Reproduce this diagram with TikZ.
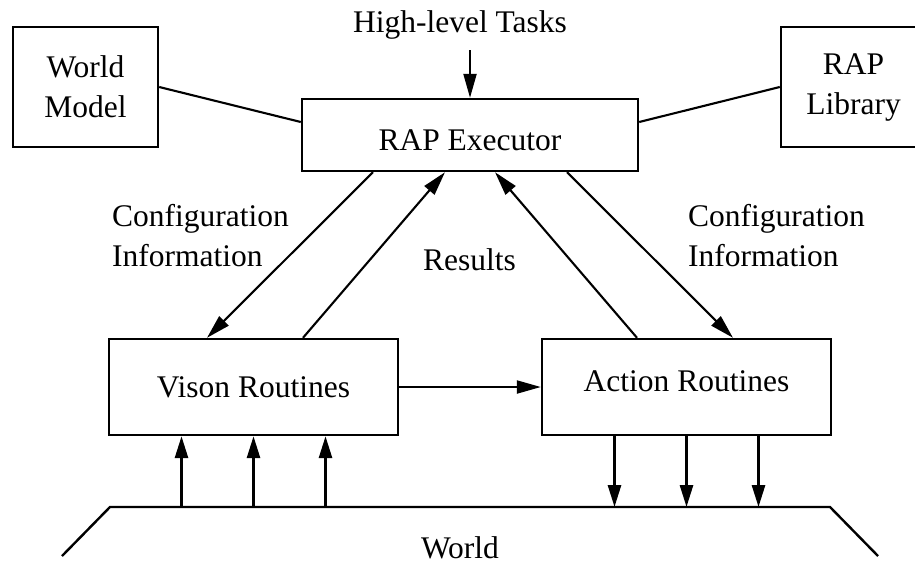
\documentclass[tikz,border=0pt]{standalone}
\usepackage{fontspec}
\setmainfont{Liberation Serif}
\usetikzlibrary{arrows.meta,calc}

\begin{document}
\begin{tikzpicture}[x=1pt,y=-1pt,
  every node/.style={font=\fontsize{31.5}{40}\selectfont},
  box/.style={draw, line width=2.4pt, inner sep=0pt, align=center},
  conn/.style={line width=2.1pt},
  arr/.style={conn, -{Triangle[length=24pt,width=13pt]}},
  varr/.style={line width=2.8pt, -{Triangle[length=22pt,width=13pt]}},
  lbl/.style={inner sep=0pt, align=left}]
\clip (0,0) rectangle (915,563);

% boxes
\node[box, minimum width=145pt, minimum height=120pt] (wm) at (85.5,87) {World\\Model};
\node[box, minimum width=145pt, minimum height=120pt] (lib) at (853.5,87) {RAP\\Library};
\node[box, minimum width=336pt, minimum height=72pt, text height=30pt, text depth=0pt] (exec) at (470,135) {RAP Executor};
\node[box, minimum width=289pt, minimum height=96pt] (vis) at (253.5,387) {Vison Routines};
\node[box, minimum width=289pt, minimum height=96pt, text height=21pt, text depth=13pt] (act) at (686.5,387) {Action Routines};

% labels
\node[anchor=base] (hlt) at (460,32) {High-level Tasks};
\node[lbl, anchor=north west] (cfgl) at (112,204) {Configuration\\Information};
\node[lbl, anchor=north west] (cfgr) at (688,204) {Configuration\\Information};
\node[anchor=base west, inner sep=0pt] (res) at (423,270) {Results};
\node[anchor=base] (world) at (460,558) {World};

% links to the executor
\coordinate (hin) at (470,50);
\draw[arr] (hin) -- (exec.north);
\draw[conn] (wm.east) -- ($(exec.west)+(0,-13)$);
\draw[conn] (lib.west) -- ($(exec.east)+(0,-13)$);

% configuration and results
\draw[arr] ($(exec.south)+(-97,0)$) -- ($(vis.north)+(-46.5,0)$);
\draw[arr] ($(vis.north)+(49.5,0)$) -- ($(exec.south)+(-25,0)$);
\draw[arr] ($(act.north)+(-49.5,0)$) -- ($(exec.south)+(25,0)$);
\draw[arr] ($(exec.south)+(97,0)$) -- ($(act.north)+(46.5,0)$);

% vision feeds action
\draw[arr] (vis.east) -- (act.west);

% the world
\coordinate (w1) at (62,556);
\coordinate (w2) at (110,507);
\coordinate (w3) at (830,507);
\coordinate (w4) at (878,556);
\draw[conn, line width=2.4pt] (w1) -- (w2) -- (w3) -- (w4);

% sensing
\foreach \dx [count=\i] in {-72,0,72} {
  \coordinate (v\i) at ($(vis.south)+(\dx,0)$);
  \draw[varr] (v\i |- w2) -- (v\i);
}
% acting
\foreach \dx [count=\i] in {-72,0,72} {
  \coordinate (a\i) at ($(act.south)+(\dx,0)$);
  \draw[varr] (a\i) -- (a\i |- w2);
}
\end{tikzpicture}
\end{document}
